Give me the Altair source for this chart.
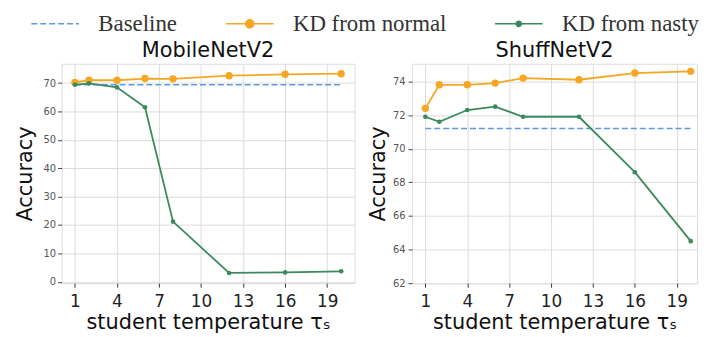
import altair as alt
import pandas as pd

# ---------------- data ----------------
TEMPS = [1, 2, 4, 6, 8, 12, 16, 20]
BASE_T = [1, 20]
X_TICKS = [1, 4, 7, 10, 13, 16, 19]

SERIES = ["Baseline", "KD from normal", "KD from nasty"]
TITLES = ["MobileNetV2", "ShuffNetV2"]

MOB_NORMAL = [70.2, 71.0, 71.0, 71.6, 71.5, 72.6, 73.1, 73.3]
MOB_NASTY = [69.4, 69.9, 68.5, 61.5, 21.2, 3.1, 3.3, 3.7]
MOB_BASELINE = [69.4, 69.4]
MOB_Y_TICKS = [0, 10, 20, 30, 40, 50, 60, 70]

SHUF_NORMAL = [72.4, 73.8, 73.8, 73.9, 74.2, 74.1, 74.5, 74.6]
SHUF_NASTY = [71.9, 71.6, 72.3, 72.5, 71.9, 71.9, 68.6, 64.5]
SHUF_BASELINE = [71.2, 71.2]
SHUF_Y_TICKS = [62, 64, 66, 68, 70, 72, 74]

# ---------------- styles ----------------
COLORS = ["#5b9be0", "#f5a623", "#3a8a5c"]
DASHES = [[6, 3], [1, 0], [1, 0]]
# legend symbols: a line with (optionally) a marker; 1 unit = 8 px at symbolSize 256
SHAPES = [
    "M-1,0L5,0",
    "M-1,0L5,0M1.5,0A0.5,0.5,0,1,0,2.5,0A0.5,0.5,0,1,0,1.5,0Z",
    "M-1,0L5,0M1.68,0A0.32,0.32,0,1,0,2.32,0A0.32,0.32,0,1,0,1.68,0Z",
]
FONT = "DejaVu Sans"


def make_panel(title, normal, nasty, baseline, y_domain, y_ticks, x_domain,
               width, y_label_pad, y_title_pad, with_legend):
    curves = pd.DataFrame({
        "t": TEMPS + TEMPS,
        "acc": normal + nasty,
        "series": [SERIES[1]] * len(TEMPS) + [SERIES[2]] * len(TEMPS),
    })
    base = pd.DataFrame({"t": BASE_T, "acc": baseline, "series": SERIES[0]})

    x = alt.X("t:Q",
              scale=alt.Scale(domain=x_domain, nice=False, zero=False),
              axis=alt.Axis(values=X_TICKS, title="student temperature τₛ",
                            labelFontSize=17, labelColor="#222", labelFont=FONT,
                            labelPadding=6, tickSize=4, tickColor="#333",
                            titleFontSize=21, titleFont=FONT, titleFontWeight="normal",
                            titleColor="#111", titlePadding=3, labelFlush=False,
                            domain=False, grid=True, gridColor="#dcdcdc"))
    y = alt.Y("acc:Q",
              scale=alt.Scale(domain=y_domain, nice=False, zero=False),
              axis=alt.Axis(values=y_ticks, title="Accuracy",
                            labelFontSize=10, labelColor="#555", labelFont=FONT,
                            labelPadding=y_label_pad, tickSize=4, tickColor="#444",
                            titleFontSize=21, titleFont=FONT, titleFontWeight="normal",
                            titleColor="#111", titlePadding=y_title_pad,
                            domain=False, grid=True, gridColor="#dcdcdc"))

    layers = []
    layers.append(alt.Chart(base).mark_line(color=COLORS[0], strokeDash=DASHES[0],
                                            strokeWidth=1.6).encode(x=x, y=y))
    for name, color, size in [(SERIES[1], COLORS[1], 55), (SERIES[2], COLORS[2], 22)]:
        src = alt.Chart(curves).transform_filter(alt.datum.series == name)
        layers.append(src.mark_line(color=color, strokeWidth=1.8).encode(x=x, y=y))
        layers.append(src.mark_circle(color=color, size=size, opacity=1).encode(x=x, y=y))

    if with_legend:
        leg = alt.Legend(orient="none", legendX=-34, legendY=-52, direction="horizontal",
                         title=None, symbolSize=256, symbolStrokeWidth=1.6,
                         labelFont="Liberation Serif", labelFontSize=23,
                         labelColor="#333", labelOffset=48, columnPadding=45,
                         labelLimit=400)
        dom = SERIES
        layers.append(
            alt.Chart(base).mark_point(opacity=1, filled=True)
            .transform_filter("false")
            .encode(
                fill=alt.Fill("series:N", scale=alt.Scale(domain=dom, range=COLORS), legend=leg),
                stroke=alt.Stroke("series:N", scale=alt.Scale(domain=dom, range=COLORS), legend=leg),
                shape=alt.Shape("series:N", scale=alt.Scale(domain=dom, range=SHAPES), legend=leg),
                strokeDash=alt.StrokeDash("series:N", scale=alt.Scale(domain=dom, range=DASHES), legend=leg),
            )
        )

    return alt.layer(*layers).properties(
        width=width, height=221,
        title=alt.TitleParams(title, fontSize=21, font=FONT, fontWeight="normal",
                              color="#111", baseline="bottom", offset=-18),
    )


left = make_panel(TITLES[0], MOB_NORMAL, MOB_NASTY, MOB_BASELINE, [-0.5, 76.8],
                  MOB_Y_TICKS, [0.05, 20.95], 295, 2, 8, True)
right = make_panel(TITLES[1], SHUF_NORMAL, SHUF_NASTY, SHUF_BASELINE, [62, 75.05],
                   SHUF_Y_TICKS, [0.05, 20.45], 287, 3, 4, False)

chart = (
    alt.hconcat(left, right, spacing=58)
    .properties(bounds="flush",
                padding={"left": 5, "top": 3, "right": 0, "bottom": 0})
    .configure_view(stroke="#555", strokeWidth=1.4)
    .configure(background="white")
)

chart.save("out.html", embed_options={"renderer": "svg", "actions": False})
